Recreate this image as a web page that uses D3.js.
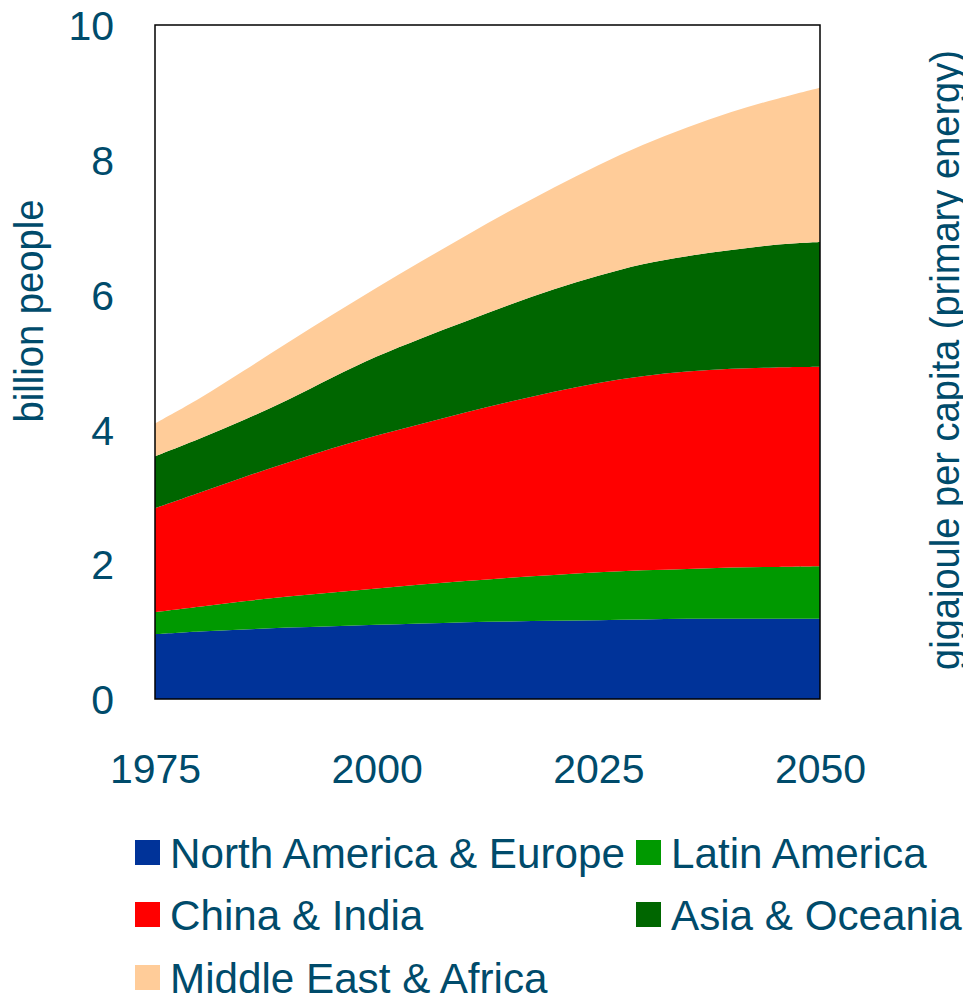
<!DOCTYPE html>
<html>
<head>
<meta charset="utf-8">
<script src="https://cdn.jsdelivr.net/npm/d3@7"></script>
<style>
  body { margin: 0; background: #fff; overflow: hidden; }
  text { font-family: "Liberation Sans", Arial, sans-serif; fill: #004b6b; }
</style>
</head>
<body>
<svg class="chart" width="963" height="997"></svg>
<script>
var years = [1975, 1980, 1985, 1990, 1995, 2000, 2005, 2010, 2015, 2020, 2025, 2030, 2035, 2040, 2045, 2050];
var regions = ["North America & Europe", "Latin America", "China & India", "Asia & Oceania", "Middle East & Africa"];
var colors = ["#003399", "#009900", "#ff0000", "#006600", "#ffcc99"];
// billion people per region
var northAmericaEurope = [0.96, 1.00, 1.03, 1.06, 1.08, 1.10, 1.12, 1.14, 1.15, 1.16, 1.17, 1.18, 1.19, 1.19, 1.19, 1.19];
var latinAmerica       = [0.33, 0.37, 0.42, 0.46, 0.50, 0.54, 0.58, 0.61, 0.65, 0.68, 0.71, 0.73, 0.74, 0.76, 0.77, 0.78];
var chinaIndia         = [1.54, 1.69, 1.84, 1.99, 2.14, 2.27, 2.38, 2.50, 2.61, 2.72, 2.81, 2.88, 2.93, 2.95, 2.96, 2.96];
var asiaOceania        = [0.77, 0.80, 0.85, 0.93, 1.05, 1.17, 1.27, 1.35, 1.44, 1.52, 1.59, 1.66, 1.71, 1.76, 1.82, 1.85];
var middleEastAfrica   = [0.49, 0.60, 0.73, 0.85, 0.93, 1.02, 1.14, 1.27, 1.39, 1.51, 1.64, 1.77, 1.91, 2.05, 2.16, 2.29];
var yTicks = [0, 2, 4, 6, 8, 10];
var xTicks = [1975, 2000, 2025, 2050];

var series = [northAmericaEurope, latinAmerica, chinaIndia, asiaOceania, middleEastAfrica];
var data = years.map(function(yr, i) {
  var row = { year: yr };
  regions.forEach(function(r, j) { row[r] = series[j][i]; });
  return row;
});

var svg = d3.select(".chart");
var plotLeft = 155, plotRight = 820, plotTop = 25, plotBottom = 699;

var x = d3.scaleLinear().domain([1975, 2050]).range([plotLeft, plotRight]);
var y = d3.scaleLinear().domain([0, 10]).range([plotBottom, plotTop]);

var stack = d3.stack().keys(regions);
var layers = stack(data);

var area = d3.area()
  .x(function(d) { return x(d.data.year); })
  .y0(function(d) { return y(d[0]); })
  .y1(function(d) { return y(d[1]); })
  .curve(d3.curveCatmullRom);

svg.selectAll(".layer")
  .data(layers)
  .enter().append("path")
  .attr("class", "layer")
  .attr("d", area)
  .attr("fill", function(d, i) { return colors[i]; });

svg.append("rect")
  .attr("x", plotLeft).attr("y", plotTop)
  .attr("width", plotRight - plotLeft).attr("height", plotBottom - plotTop)
  .attr("fill", "none").attr("stroke", "#000").attr("stroke-width", 1.5);

// y axis
var yAxis = svg.append("g")
  .attr("transform", "translate(114,0)")
  .call(d3.axisLeft(y).tickValues(yTicks).tickSize(0).tickPadding(0));
yAxis.select(".domain").remove();
yAxis.selectAll("text").attr("font-size", 41).attr("font-family", null).attr("fill", null).attr("dy", "0.36em");

// x axis
var xAxis = svg.append("g")
  .attr("transform", "translate(0,753)")
  .call(d3.axisBottom(x).tickValues(xTicks).tickFormat(d3.format("d")).tickSize(0).tickPadding(0));
xAxis.select(".domain").remove();
xAxis.selectAll("text").attr("font-size", 41).attr("font-family", null).attr("fill", null).attr("dy", "0.72em");

// axis titles
svg.append("text")
  .attr("transform", "translate(43,311) rotate(-90)")
  .attr("text-anchor", "middle")
  .attr("font-size", 40)
  .attr("textLength", 223).attr("lengthAdjust", "spacingAndGlyphs")
  .text("billion  people");

svg.append("text")
  .attr("transform", "translate(959,360) rotate(-90)")
  .attr("text-anchor", "middle")
  .attr("font-size", 40)
  .attr("textLength", 620).attr("lengthAdjust", "spacingAndGlyphs")
  .text("gigajoule per capita (primary energy)");

// legend
var legendPos = [[135, 840], [636, 840], [135, 902], [636, 902], [135, 965]];
var legend = svg.selectAll(".legend")
  .data(regions)
  .enter().append("g")
  .attr("class", "legend")
  .attr("transform", function(d, i) { return "translate(" + legendPos[i][0] + "," + legendPos[i][1] + ")"; });

legend.append("rect")
  .attr("width", 25).attr("height", 25)
  .attr("fill", function(d, i) { return colors[i]; });

legend.append("text")
  .attr("x", 35).attr("y", 28)
  .attr("font-size", 42.2)
  .text(function(d) { return d; });
</script>
</body>
</html>
